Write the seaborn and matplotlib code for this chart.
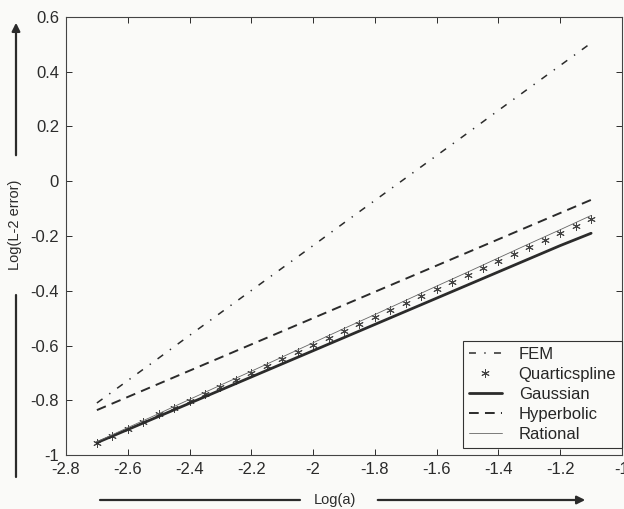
import numpy as np
import pandas as pd
import matplotlib
matplotlib.use('Agg')
import matplotlib.pyplot as plt
import seaborn as sns

# values (log-log scale)
x_line = [-2.7, -2.6, -2.5, -2.4, -2.3, -2.2, -2.1, -2.0, -1.9, -1.8,
          -1.7, -1.6, -1.5, -1.4, -1.3, -1.2, -1.1]
fem = [-0.810, -0.728, -0.646, -0.563, -0.481, -0.399, -0.317, -0.235, -0.152,
       -0.070, 0.012, 0.094, 0.176, 0.259, 0.341, 0.423, 0.505]
hyperbolic = [-0.836, -0.788, -0.740, -0.692, -0.644, -0.596, -0.548, -0.500, -0.452,
              -0.404, -0.356, -0.308, -0.260, -0.212, -0.164, -0.116, -0.068]
gaussian = [-0.955, -0.907, -0.859, -0.811, -0.763, -0.715, -0.667, -0.619, -0.571,
            -0.523, -0.475, -0.427, -0.379, -0.331, -0.283, -0.235, -0.190]
rational = [-0.952, -0.900, -0.849, -0.797, -0.745, -0.694, -0.642, -0.590, -0.538,
            -0.487, -0.435, -0.383, -0.332, -0.280, -0.228, -0.177, -0.125]

x_quart = [-2.70, -2.65, -2.60, -2.55, -2.50, -2.45, -2.40, -2.35, -2.30, -2.25, -2.20,
           -2.15, -2.10, -2.05, -2.00, -1.95, -1.90, -1.85, -1.80, -1.75, -1.70, -1.65,
           -1.60, -1.55, -1.50, -1.45, -1.40, -1.35, -1.30, -1.25, -1.20, -1.15, -1.10]
quartic = [-0.956, -0.930, -0.905, -0.879, -0.852, -0.828, -0.803, -0.777, -0.751, -0.726,
           -0.700, -0.675, -0.649, -0.624, -0.598, -0.573, -0.547, -0.521, -0.496, -0.470,
           -0.445, -0.419, -0.394, -0.368, -0.342, -0.317, -0.291, -0.266, -0.240, -0.215,
           -0.189, -0.164, -0.138]

xticks = [-2.8, -2.6, -2.4, -2.2, -2, -1.8, -1.6, -1.4, -1.2, -1]
yticks = [0.6, 0.4, 0.2, 0, -0.2, -0.4, -0.6, -0.8, -1]

sns.set_style('ticks')
plt.rcParams['font.family'] = ['Liberation Sans', 'DejaVu Sans']
plt.rcParams['lines.scale_dashes'] = False

ink = '#2b2b2b'
fig = plt.figure(figsize=(6.24, 5.09), dpi=100, facecolor='#fafaf8')
ax = fig.add_axes([66 / 624, 54 / 509, 556 / 624, 438 / 509])
ax.set_facecolor('#fafaf8')

sns.lineplot(x=x_line, y=fem, ax=ax, color=ink, lw=1.1,
             linestyle=(0, (5, 6, 1, 6)), label='FEM')
sns.lineplot(x=x_quart, y=quartic, ax=ax, color=ink, linestyle='',
             marker=(6, 2, 0), markersize=6, markeredgewidth=0.7,
             markeredgecolor='#444444', label='Quarticspline')
sns.lineplot(x=x_line, y=gaussian, ax=ax, color=ink, lw=2.0, label='Gaussian')
sns.lineplot(x=x_line, y=hyperbolic, ax=ax, color=ink, lw=1.4,
             linestyle=(0, (7, 4.5)), label='Hyperbolic')
sns.lineplot(x=x_line, y=rational, ax=ax, color='#666666', lw=0.6, label='Rational')

ax.set_xlim(-2.8, -1)
ax.set_ylim(-1, 0.6)
ax.set_xticks(xticks)
ax.set_xticklabels([f'{t:g}' for t in xticks])
ax.set_yticks(yticks)
ax.set_yticklabels([f'{t:g}' for t in yticks])
ax.tick_params(direction='in', length=4, width=0.7, colors=ink, labelsize=12,
               top=True, right=True, pad=5)
for s in ax.spines.values():
    s.set_color('#444444')
    s.set_linewidth(0.8)
ax.set_xlabel('')
ax.set_ylabel('')

leg = ax.legend(loc='lower right', bbox_to_anchor=(1.0, 0.016), borderaxespad=0,
                fancybox=False, edgecolor='#333333', facecolor='#fafaf8',
                framealpha=1, fontsize=12, handlelength=2.0, handletextpad=1.0,
                labelspacing=0.3, borderpad=0.35)
leg.get_frame().set_linewidth(0.8)

# axis captions with arrows, outside the axes
fig.text(15 / 624, 1 - 225 / 509, 'Log(L-2 error)', rotation=90, ha='center',
         va='center', fontsize=10.5, color=ink)
fig.add_artist(plt.Line2D([16 / 624, 16 / 624], [1 - 477 / 509, 1 - 295 / 509],
                          color=ink, lw=1.6))
ax.annotate('', xy=(16 / 624, 1 - 20 / 509), xytext=(16 / 624, 1 - 158 / 509),
            xycoords='figure fraction', textcoords='figure fraction',
            arrowprops=dict(arrowstyle='-|>', color=ink, lw=1.6, mutation_scale=12))

fig.text(335 / 624, 1 - 500 / 509, 'Log(a)', ha='center', va='center',
         fontsize=10.5, color=ink)
fig.add_artist(plt.Line2D([100 / 624, 300 / 624], [1 - 500 / 509, 1 - 500 / 509],
                          color=ink, lw=1.6))
ax.annotate('', xy=(588 / 624, 1 - 500 / 509), xytext=(375 / 624, 1 - 500 / 509),
            xycoords='figure fraction', textcoords='figure fraction',
            arrowprops=dict(arrowstyle='-|>', color=ink, lw=1.6, mutation_scale=12))

fig.savefig('out.png', dpi=100, facecolor=fig.get_facecolor())
